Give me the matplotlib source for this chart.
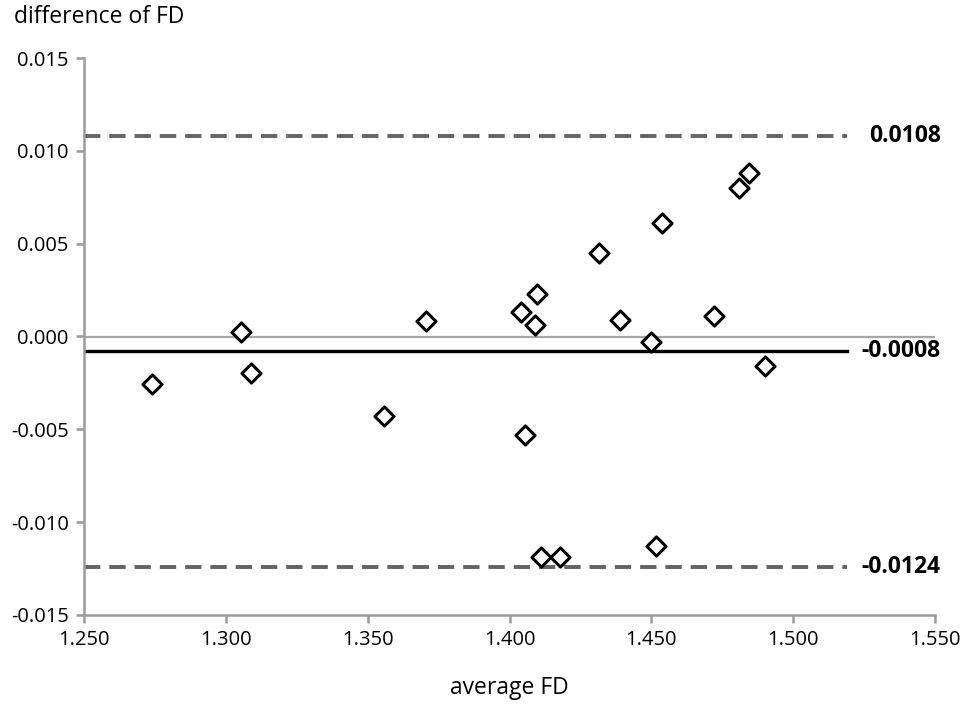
import numpy as np
import matplotlib
matplotlib.use("Agg")
import matplotlib.pyplot as plt

# Bland-Altman style data: average FD vs difference of FD
avg_fd = [1.274, 1.3053, 1.3089, 1.3558, 1.3706, 1.4041, 1.4090, 1.4097,
          1.4055, 1.4111, 1.4178, 1.4315, 1.4389, 1.4499, 1.4516, 1.4538,
          1.4720, 1.4809, 1.4844, 1.4900]
diff_fd = [-0.00256, 0.00024, -0.00197, -0.00428, 0.00083, 0.00132, 0.00062,
           0.00229, -0.0053, -0.01188, -0.01188, 0.0045, 0.00089, -0.0003,
           -0.01128, 0.00611, 0.0011, 0.0080, 0.0088, -0.00159]
mean_diff = -0.0008
upper_loa = 0.0108
lower_loa = -0.0124
line_x = [1.25, 1.519]

plt.rcParams['font.family'] = ['Open Sans', 'DejaVu Sans']

fig = plt.figure(figsize=(9.68, 7.04), dpi=100, facecolor="white")
ax = fig.add_axes([84 / 968, 1 - 615 / 704, (935 - 84) / 968, (615 - 58) / 704])

ax.axhline(0, color="#a6a6a6", lw=1.6, zorder=1)
ax.plot(line_x, [mean_diff] * 2, color="black", lw=2.4, zorder=2)
ax.plot(line_x, [upper_loa] * 2, color="#636363", lw=2.8,
        dashes=(4.2, 2.3), zorder=2)
ax.plot(line_x, [lower_loa] * 2, color="#636363", lw=2.8,
        dashes=(4.2, 2.3), zorder=2)

ax.scatter(avg_fd, diff_fd, marker="D", s=95, facecolor="white",
           edgecolor="black", linewidth=2.2, zorder=3)

for val, lab in [(upper_loa, "0.0108"), (mean_diff, "-0.0008"),
                 (lower_loa, "-0.0124")]:
    ax.text(1.552, val, lab, ha="right", va="center", fontsize=16.5,
            fontweight="bold", clip_on=False)

ax.set_xlim(1.25, 1.55)
ax.set_ylim(-0.015, 0.015)
ax.set_xticks(np.arange(1.25, 1.5501, 0.05))
ax.set_yticks(np.arange(-0.015, 0.01501, 0.005))
ax.set_xticklabels([f"{v:.3f}" for v in np.arange(1.25, 1.5501, 0.05)])
ax.set_yticklabels([f"{v:.3f}" for v in np.arange(-0.015, 0.01501, 0.005)])
ax.tick_params(axis="both", direction="out", length=6, width=1.8,
               color="#9a9a9a", labelsize=14.5, pad=5)

for s in ["top", "right"]:
    ax.spines[s].set_visible(False)
for s in ["left", "bottom"]:
    ax.spines[s].set_color("#9a9a9a")
    ax.spines[s].set_linewidth(1.8)

fig.text(14 / 968, 1 - 17 / 704, "difference of FD", ha="left", va="center",
         fontsize=16.5)
fig.text(509 / 968, 1 - 688 / 704, "average FD", ha="center", va="center",
         fontsize=16.5)

fig.savefig("out.png", dpi=100, facecolor="white")
